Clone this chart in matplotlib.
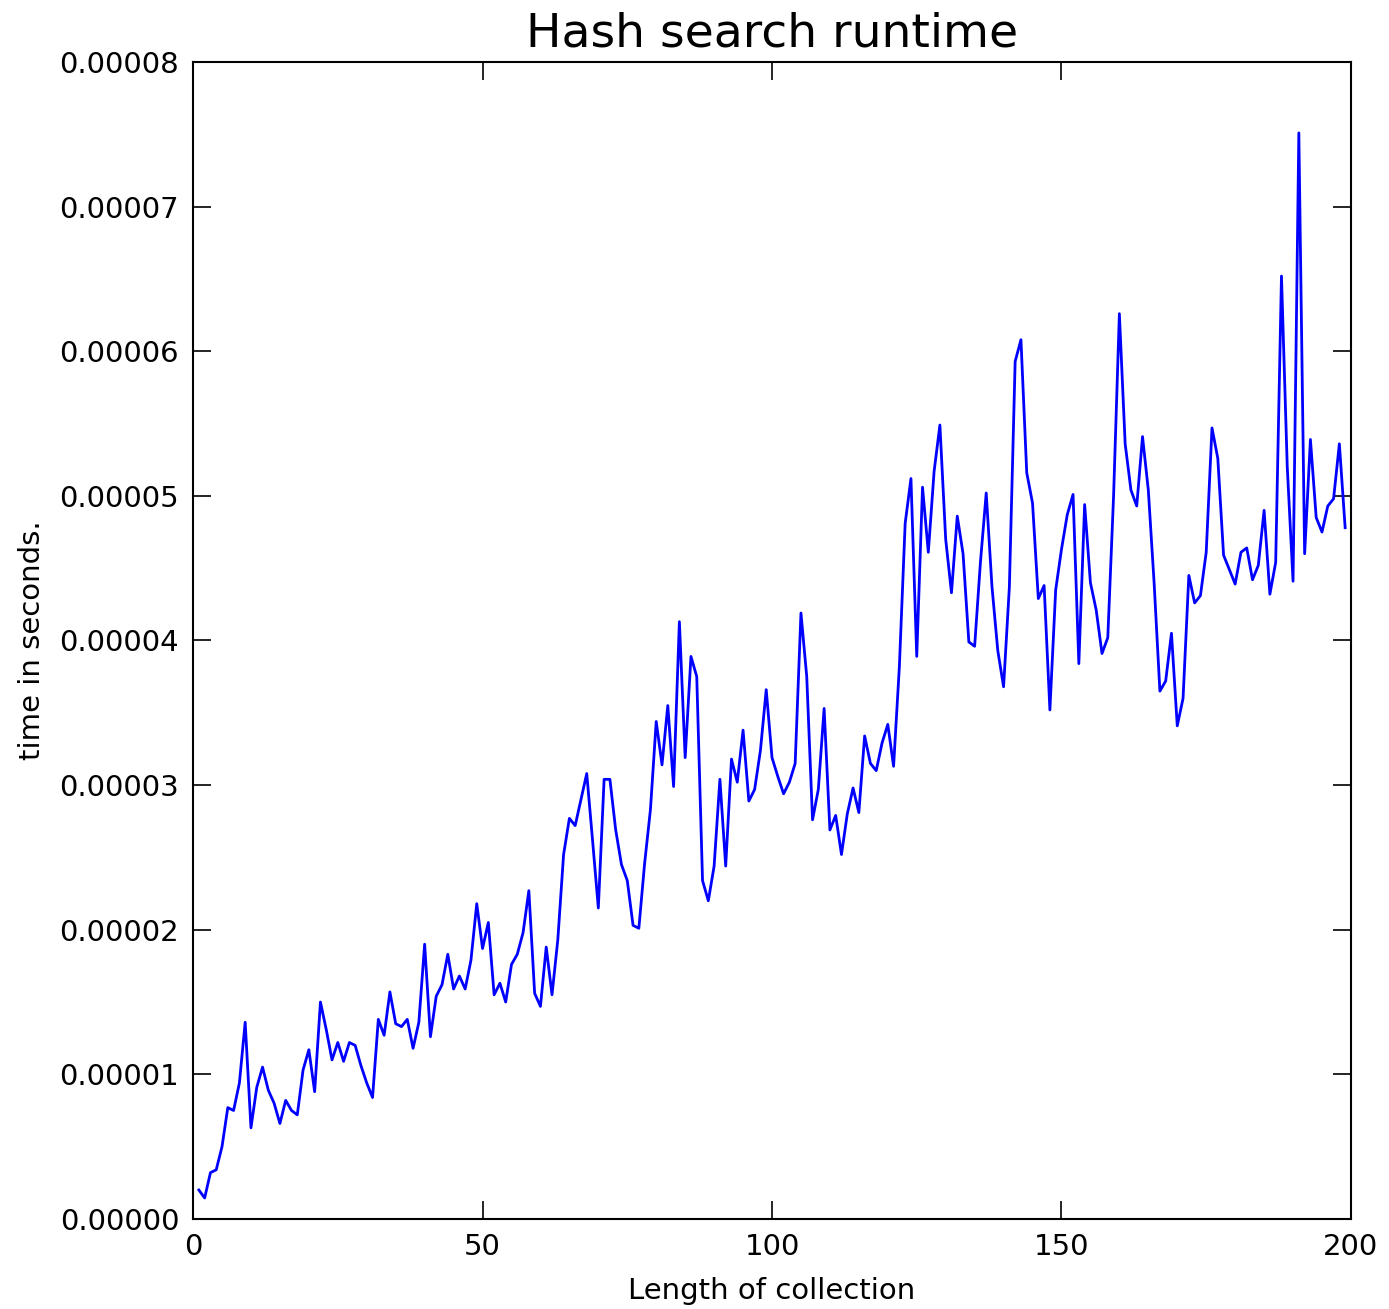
import matplotlib
matplotlib.use('Agg')
import matplotlib.pyplot as plt
from matplotlib.ticker import FormatStrFormatter

# longitud de la coleccion
lengths = list(range(1, 200))

times_us = [
    2.0, 1.45, 3.2, 3.4, 5.0, 7.7, 7.5, 9.4, 13.6, 6.3,
    9.1, 10.5, 8.9, 8.0, 6.6, 8.2, 7.5, 7.2, 10.3, 11.7,
    8.8, 15.0, 13.1, 11.0, 12.2, 10.9, 12.2, 12.0, 10.6, 9.4,
    8.4, 13.8, 12.7, 15.7, 13.5, 13.3, 13.8, 11.8, 13.6, 19.0,
    12.6, 15.4, 16.2, 18.3, 15.9, 16.8, 15.9, 17.9, 21.8, 18.7,
    20.5, 15.5, 16.3, 15.0, 17.6, 18.3, 19.8, 22.7, 15.6, 14.7,
    18.8, 15.5, 19.3, 25.2, 27.7, 27.2, 29.0, 30.8, 26.2, 21.5,
    30.4, 30.4, 26.9, 24.5, 23.4, 20.3, 20.1, 24.6, 28.3, 34.4,
    31.4, 35.5, 29.9, 41.3, 31.9, 38.9, 37.5, 23.4, 22.0, 24.4,
    30.4, 24.4, 31.8, 30.2, 33.8, 28.9, 29.7, 32.4, 36.6, 31.9,
    30.6, 29.4, 30.2, 31.5, 41.9, 37.5, 27.6, 29.7, 35.3, 26.9,
    27.9, 25.2, 28.0, 29.8, 28.1, 33.4, 31.5, 31.0, 32.9, 34.2,
    31.3, 38.2, 48.1, 51.2, 38.9, 50.6, 46.1, 51.7, 54.9, 47.0,
    43.3, 48.6, 46.0, 39.9, 39.6, 45.4, 50.2, 43.7, 39.3, 36.8,
    43.7, 59.3, 60.8, 51.6, 49.5, 42.9, 43.8, 35.2, 43.5, 46.3,
    48.7, 50.1, 38.4, 49.4, 44.0, 42.1, 39.1, 40.2, 50.0, 62.6,
    53.6, 50.4, 49.3, 54.1, 50.4, 44.0, 36.5, 37.2, 40.5, 34.1,
    36.0, 44.5, 42.6, 43.1, 46.1, 54.7, 52.6, 45.9, 44.9, 43.9,
    46.1, 46.4, 44.2, 45.2, 49.0, 43.2, 45.4, 65.2, 52.0, 44.1,
    75.1, 46.0, 53.9, 48.5, 47.5, 49.3, 49.8, 53.6, 47.8,
]

times = [t * 1e-6 for t in times_us]

fig = plt.figure(figsize=(13.89, 13.09), dpi=100)
ax = fig.add_axes([0.139, 0.0688, 0.8336, 0.8838])

ax.plot(lengths, times, color='b', linewidth=2)
ax.set_xlim(0, 200)
ax.set_ylim(0, 0.00008)
ax.set_xticks([0, 50, 100, 150, 200])
ax.set_yticks([i * 1e-5 for i in range(9)])
ax.yaxis.set_major_formatter(FormatStrFormatter('%.5f'))

ax.tick_params(direction='in', top=True, right=True, length=13, width=1.2,
               labelsize=21, pad=10)
for s in ax.spines.values():
    s.set_linewidth(1.5)

ax.set_title('Hash search runtime', fontsize=34, pad=11)
ax.set_xlabel('Length of collection', fontsize=21, labelpad=12)
ax.set_ylabel('time in seconds.', fontsize=21, labelpad=10)

fig.savefig('out.png', dpi=100)
